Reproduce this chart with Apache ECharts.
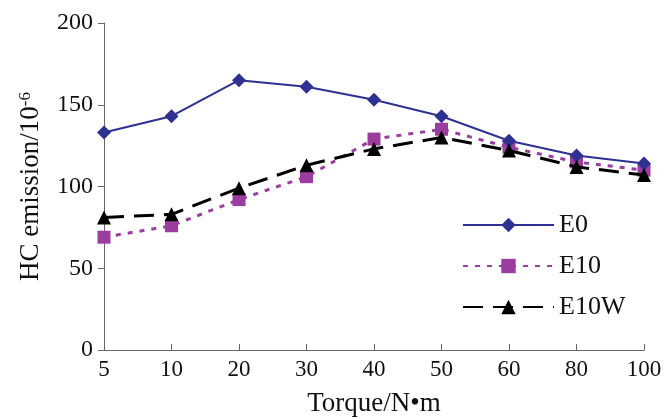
<!DOCTYPE html>
<html>
<head>
<meta charset="utf-8">
<script src="https://cdn.jsdelivr.net/npm/echarts@6/dist/echarts.min.js"></script>
<style>
  html, body { margin: 0; padding: 0; background: #fff; }
  #chart { width: 665px; height: 419px; }
</style>
</head>
<body>
<div id="chart"></div>
<script>
// torque categories (N·m)
const torque = ['5', '10', '20', '30', '40', '50', '60', '80', '100'];
// HC emission, 10^-6
const e0 = [133, 143, 165, 161, 153, 143, 128, 119, 114];
const e10 = [69, 76, 92, 106, 129, 135, 124, 115, 110];
const e10w = [81, 83, 99, 113, 123, 130, 122, 112, 107];
const yTicks = [0, 50, 100, 150, 200];

const font = '"Liberation Serif", "Times New Roman", serif';
const axisColor = '#666';

const chart = echarts.init(document.getElementById('chart'), null, { renderer: 'canvas' });

chart.setOption({
    backgroundColor: '#fff',
    animation: false,
    textStyle: { fontFamily: font },
    grid: { left: 104, right: 21, top: 23, bottom: 69, outerBoundsMode: 'none', containLabel: false },
    legend: {
        orient: 'vertical',
        left: 462,
        top: 212,
        padding: 0,
        itemWidth: 91,
        itemHeight: 18,
        itemGap: 15,
        textStyle: { fontFamily: font, fontSize: 26, color: '#111', padding: [0, 0, 0, 0] },
        data: ['E0', 'E10', 'E10W'],
    },
    xAxis: {
        type: 'category',
        data: torque,
        boundaryGap: false,
        name: 'Torque/N\u2022m',
        nameLocation: 'middle',
        nameGap: 40,
        nameTextStyle: { fontFamily: font, fontSize: 27, color: '#111' },
        axisLine: { lineStyle: { color: axisColor, width: 1 } },
        axisTick: { inside: true, length: 6, lineStyle: { color: axisColor } },
        axisLabel: { fontFamily: font, fontSize: 23, color: '#111', margin: 8 },
        splitLine: { show: false },
    },
    yAxis: {
        type: 'value',
        min: yTicks[0],
        max: yTicks[yTicks.length - 1],
        interval: 50,
        name: 'HC emission/10{sup|-6}',
        nameLocation: 'middle',
        nameGap: 58,
        nameRotate: 90,
        nameTextStyle: {
            fontFamily: font, fontSize: 27, color: '#111',
            rich: { sup: { fontFamily: font, fontSize: 17, color: '#111', verticalAlign: 'top', lineHeight: 17, padding: [0, 0, 12, 0] } },
        },
        axisLine: { show: true, lineStyle: { color: axisColor, width: 1 } },
        axisTick: { show: true, length: 6, lineStyle: { color: axisColor } },
        axisLabel: { fontFamily: font, fontSize: 24, color: '#111', margin: 11 },
        splitLine: { show: false },
    },
    series: [
        {
            name: 'E0',
            type: 'line',
            data: e0,
            symbol: 'diamond',
            symbolSize: 14,
            lineStyle: { color: '#2E3192', width: 2 },
            itemStyle: { color: '#2E3192' },
            z: 3,
        },
        {
            name: 'E10',
            type: 'line',
            data: e10,
            symbol: 'rect',
            symbolSize: 13,
            lineStyle: { color: '#9B3D9E', width: 3, type: [5, 7] },
            itemStyle: { color: '#9B3D9E' },
            z: 2,
        },
        {
            name: 'E10W',
            type: 'line',
            data: e10w,
            symbol: 'triangle',
            symbolSize: 14,
            lineStyle: { color: '#000', width: 3, type: [20, 10] },
            itemStyle: { color: '#000' },
            z: 4,
        },
    ],
});
</script>
</body>
</html>
